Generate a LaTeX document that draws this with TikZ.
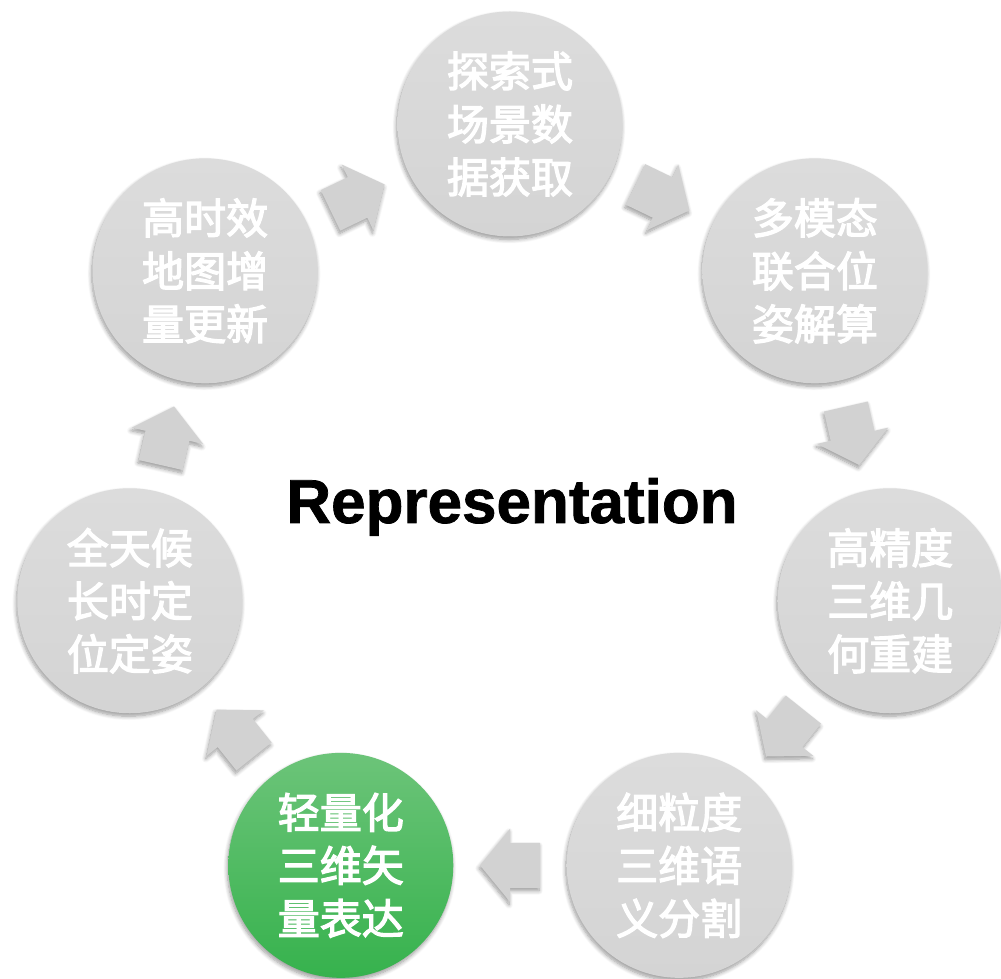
\documentclass[tikz,border=0pt]{standalone}
\usepackage{fontspec}
\setmainfont{Liberation Sans}[BoldFeatures={FakeBold=1.2}]
\newfontfamily\cjk{Noto Sans CJK SC}[FakeBold=3]
\usetikzlibrary{calc,shadows.blur}
\definecolor{grayTop}{HTML}{DCDCDC}
\definecolor{grayBot}{HTML}{D4D4D4}
\definecolor{greenTop}{HTML}{6CC479}
\definecolor{greenBot}{HTML}{36B24D}
\definecolor{arrowGray}{HTML}{D2D2D2}
\begin{document}
\begin{tikzpicture}[x=1pt,y=1pt,
  softshadow/.style={blur shadow={shadow xshift=-1pt, shadow yshift=-3pt, shadow blur radius=4pt, shadow blur steps=8, shadow opacity=40}},
  stage/.style={circle, minimum size=225pt, inner sep=0pt, text=white, align=center,
    font=\cjk\fontsize{42pt}{53pt}\selectfont,
    top color=grayTop, bottom color=grayBot, softshadow},
  keystage/.style={stage, top color=greenTop, bottom color=greenBot},
  blockarrow/.style={fill=arrowGray, softshadow}]
\useasboundingbox (0,0) rectangle (1001,979);
\coordinate (O) at (510,465);
\node[stage] (A) at ($(O)+(90:390)$) {探索式\\场景数\\据获取};
\node[stage] (B) at ($(O)+(38.571:390)$) {多模态\\联合位\\姿解算};
\node[stage] (C) at ($(O)+(-12.857:390)$) {高精度\\三维几\\何重建};
\node[stage] (D) at ($(O)+(-64.286:390)$) {细粒度\\三维语\\义分割};
\node[keystage] (E) at ($(O)+(-115.714:390)$) {轻量化\\三维矢\\量表达};
\node[stage] (F) at ($(O)+(-167.143:390)$) {全天候\\长时定\\位定姿};
\node[stage] (G) at ($(O)+(141.429:390)$) {高时效\\地图增\\量更新};
\foreach \a/\b/\ang in {A/B/-25.714, B/C/-77.143, C/D/-128.571, D/E/180, E/F/128.571, F/G/77.143, G/A/25.714}{
  \fill[blockarrow, shift={($(\a)!0.5!(\b)$)}, rotate=\ang]
    (-30,-22.5) -- (0,-22.5) -- (0,-36.5) -- (30,0) -- (0,36.5) -- (0,22.5) -- (-30,22.5) -- cycle;
}
\node[anchor=base, font=\bfseries\fontsize{62pt}{62pt}\selectfont] (title) at (512,456) {Representation};
\end{tikzpicture}
\end{document}
